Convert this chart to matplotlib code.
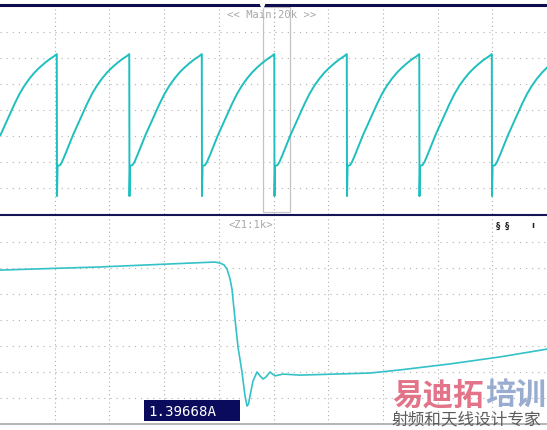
import matplotlib
matplotlib.use("Agg")
import matplotlib.pyplot as plt
import numpy as np
from matplotlib.lines import Line2D
from matplotlib.patches import Rectangle

plt.rcParams["lines.scale_dashes"] = False

# ---------------- data (oscilloscope divisions) ----------------
# upper channel: sawtooth-like waveform, drop instants (div)
drop_times = [1.042, 2.367, 3.693, 5.018, 6.344, 7.669, 8.995]
period = 1.3255
# one cycle after a drop: phase (div) and level (div)
cycle_phase = [0.000, 0.011, 0.055, 0.091, 0.146, 0.219, 0.293, 0.366,
               0.457, 0.548, 0.640, 0.731, 0.823, 0.914, 1.005, 1.097, 1.188,
               1.280, 1.320]
cycle_level = [-3.31, -2.15, -2.12, -2.00, -1.73, -1.35, -0.96, -0.62,
               -0.19, 0.23, 0.62, 0.94, 1.21, 1.44, 1.63, 1.80, 1.95,
               2.08, 2.15]

# lower channel (zoomed current)
zoom_t = [0.000, 1.828, 3.931, 4.022, 4.095, 4.150, 4.205, 4.241, 4.296, 4.351,
          4.424, 4.479, 4.516, 4.543, 4.570, 4.625, 4.698, 4.753, 4.808, 4.863,
          4.936, 5.027, 5.174, 5.484, 6.764, 7.313, 8.227, 9.141, 10.000]
zoom_v = [1.92, 2.04, 2.23, 2.19, 2.12, 1.96, 1.58, 1.19, 0.04, -1.04,
          -2.00, -2.92, -3.31, -3.23, -2.92, -2.35, -2.00, -2.15, -2.27, -2.19,
          -2.00, -2.15, -2.08, -2.12, -2.04, -1.92, -1.69, -1.42, -1.12]

zoom_window = (4.81, 5.30)
readout = "1.39668A"
main_label = "<< Main:20k >>"
zoom_label = "<Z1:1k>"

# ---------------- figure ----------------
W, H = 547, 431
fig = plt.figure(figsize=(W / 100, H / 100), dpi=100)
fig.patch.set_facecolor("white")


def fx(px):
    return px / W


def fy(py):
    return 1 - py / H


ax1 = fig.add_axes([0, fy(215), 1, (215 - 7) / H])
ax2 = fig.add_axes([0, fy(425), 1, (425 - 217) / H])
grid_col = "#b0b0b0"
for ax in (ax1, ax2):
    ax.set_xlim(0, 10)
    ax.set_ylim(-4, 4)
    ax.axis("off")
    for xv in range(1, 10):
        ax.axvline(xv, color=grid_col, lw=0.8, ls=(0, (0.8, 2.2)), zorder=1)
    for yv in range(-3, 4):
        ax.axhline(yv, color=grid_col, lw=0.8, ls=(0, (0.8, 3.6)), zorder=1)

# build upper trace from cycle data placed at each drop
ts, vs = [], []
starts = [drop_times[0] - period] + drop_times
for i, d in enumerate(starts):
    if i > 0:
        ts.append(d - 0.004)
        vs.append(cycle_level[-1])
    for p, l in zip(cycle_phase, cycle_level):
        if i == 0 and p < 0.25:
            continue
        ts.append(d + p)
        vs.append(l)
ts = np.array(ts)
vs = np.array(vs)
mask = ts <= 10.05
ax1.plot(ts[mask], vs[mask], color="#1fbfbf", lw=1.4, zorder=3,
         solid_joinstyle="round")

# zoom window box
ax1.add_patch(Rectangle((zoom_window[0], -3.92), zoom_window[1] - zoom_window[0],
                        3.96 + 3.92, fill=False, edgecolor="#c4c4c4", lw=0.9,
                        zorder=2))

ax2.plot(zoom_t, zoom_v, color="#33c2c8", lw=1.2, zorder=3,
         solid_joinstyle="round")

# frame lines
fig.add_artist(Line2D([0, 1], [fy(6), fy(6)], color="#0c0c4e", lw=2.2))
fig.add_artist(Line2D([0, 1], [fy(216), fy(216)], color="#141456", lw=1.5))
fig.add_artist(Line2D([0, 1], [fy(425), fy(425)], color="#a8a8a8", lw=1.2))
fig.add_artist(Line2D([fx(262)], [fy(6.5)], marker="v", ms=3, color="white",
                      mec="white", lw=0))

mono = "DejaVu Sans Mono"
fig.text(fx(272), fy(15), main_label, ha="center", va="center", family=mono,
         fontsize=7.6, color="#a8a8a8")
fig.text(fx(251), fy(225), zoom_label, ha="center", va="center", family=mono,
         fontsize=7.6, color="#a8a8a8")

for xp, s in [(498, "§"), (507, "§"), (533, "ı")]:
    fig.text(fx(xp), fy(226), s, ha="center", va="center", fontsize=6,
             weight="bold", color="#202020")

# readout box
fig.add_artist(Rectangle((fx(144), fy(422)), fx(240) - fx(144), fy(401) - fy(422),
                         transform=fig.transFigure, facecolor="#0b0b5e",
                         edgecolor="none"))
fig.text(fx(148), fy(412), readout, ha="left", va="center", family=mono,
         fontsize=10.2, color="white")

# watermark
cjk = ["Noto Sans CJK SC", "DejaVu Sans"]
fig.text(fx(392), fy(396), "易迪拓", ha="left", va="center", family=cjk,
         fontsize=22, weight="bold", color="#e0647c", alpha=0.9)
fig.text(fx(485), fy(396), "培训", ha="left", va="center", family=cjk,
         fontsize=22, weight="bold", color="#8ea4cc", alpha=0.9)
fig.text(fx(392), fy(420), "射频和天线设计专家", ha="left", va="center",
         family=cjk, fontsize=12, color="#5c5c5c")

fig.savefig("out.png", dpi=100, facecolor="white")
